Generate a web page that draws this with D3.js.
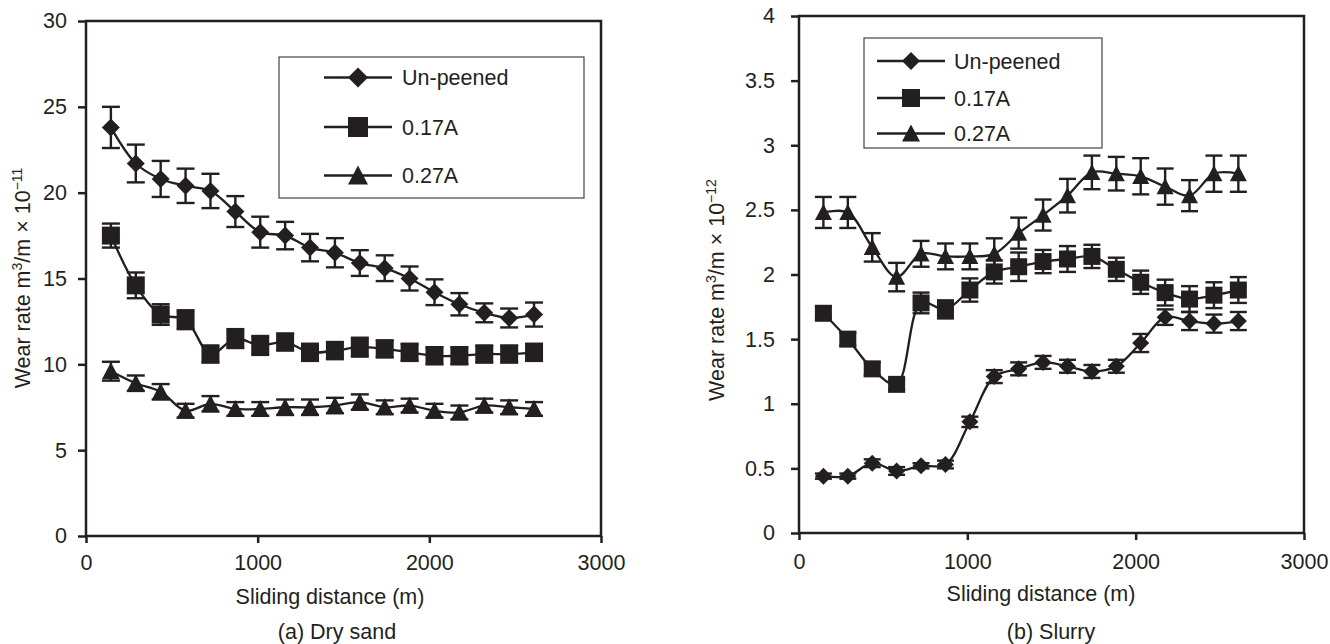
<!DOCTYPE html>
<html>
<head>
<meta charset="utf-8">
<script src="https://cdn.jsdelivr.net/npm/d3@7"></script>
<style>
    body { margin: 0; background: #fff; }
    text { font-family: "Liberation Sans", Arial, sans-serif; fill: #231f20; }
</style>
</head>
<body>
<div id="chart"></div>
<script>
// Chart data
var distance = [145, 290, 435, 580, 725, 870, 1015, 1160, 1305, 1450, 1595, 1740, 1885, 2030, 2175, 2320, 2465, 2610];
var seriesNames = ["Un-peened", "0.17A", "0.27A"];
var markerTypes = ["diamond", "square", "triangle"];
var xTicks = [0, 1000, 2000, 3000];

// (a) Dry sand, x 10^-11
var dryUnpeened = [23.8, 21.7, 20.8, 20.4, 20.1, 18.9, 17.7, 17.5, 16.8, 16.5, 15.9, 15.6, 15.0, 14.2, 13.5, 13.0, 12.7, 12.9];
var dryUnpeenedErr = [1.2, 1.1, 1.05, 1.0, 1.0, 0.9, 0.9, 0.8, 0.8, 0.85, 0.75, 0.75, 0.7, 0.75, 0.65, 0.55, 0.55, 0.7];
var dry017 = [17.5, 14.6, 12.9, 12.6, 10.6, 11.5, 11.1, 11.3, 10.7, 10.8, 11.0, 10.9, 10.7, 10.5, 10.5, 10.6, 10.6, 10.7];
var dry017Err = [0.7, 0.75, 0.6, 0.55, 0.5, 0.55, 0.55, 0.5, 0.5, 0.5, 0.55, 0.5, 0.5, 0.5, 0.5, 0.5, 0.5, 0.5];
var dry027 = [9.6, 8.9, 8.4, 7.3, 7.7, 7.4, 7.4, 7.5, 7.5, 7.6, 7.8, 7.5, 7.6, 7.3, 7.2, 7.6, 7.5, 7.4];
var dry027Err = [0.55, 0.45, 0.45, 0.4, 0.45, 0.4, 0.4, 0.45, 0.45, 0.45, 0.45, 0.4, 0.4, 0.4, 0.4, 0.4, 0.4, 0.4];
var dryTicks = [0, 5, 10, 15, 20, 25, 30];

// (b) Slurry, x 10^-12
var slurryUnpeened = [0.44, 0.44, 0.54, 0.48, 0.52, 0.53, 0.86, 1.21, 1.27, 1.32, 1.29, 1.25, 1.29, 1.47, 1.67, 1.64, 1.62, 1.64];
var slurryUnpeenedErr = [0.02, 0.02, 0.03, 0.03, 0.02, 0.03, 0.04, 0.05, 0.05, 0.05, 0.05, 0.05, 0.05, 0.07, 0.06, 0.07, 0.07, 0.07];
var slurry017 = [1.70, 1.50, 1.27, 1.15, 1.78, 1.73, 1.88, 2.02, 2.06, 2.10, 2.12, 2.14, 2.04, 1.94, 1.86, 1.81, 1.84, 1.88];
var slurry017Err = [0.05, 0.05, 0.05, 0.04, 0.08, 0.07, 0.09, 0.09, 0.11, 0.09, 0.1, 0.09, 0.09, 0.09, 0.1, 0.1, 0.1, 0.1];
var slurry027 = [2.48, 2.48, 2.21, 1.98, 2.16, 2.14, 2.14, 2.16, 2.32, 2.46, 2.61, 2.79, 2.78, 2.76, 2.68, 2.61, 2.78, 2.78];
var slurry027Err = [0.12, 0.12, 0.11, 0.11, 0.1, 0.1, 0.1, 0.12, 0.12, 0.12, 0.13, 0.13, 0.13, 0.14, 0.14, 0.12, 0.14, 0.14];
var slurryTicks = [0, 0.5, 1, 1.5, 2, 2.5, 3, 3.5, 4];

var ink = "#231f20";

var svg = d3.select("#chart")
    .append("svg")
    .attr("width", 1330)
    .attr("height", 644);

// Marker path centred at 0,0 inside an s x s box
function markerPath(type, s) {
    var h = s / 2;
    if (type === "diamond") {
        return `M0,${-h}L${h},0L0,${h}L${-h},0Z`;
    }
    if (type === "square") {
        return `M${-h},${-h}H${h}V${h}H${-h}Z`;
    }
    return `M0,${-h}L${h},${h * 0.9}L${-h},${h * 0.9}Z`;
}

function drawPanel(cfg) {
    var x = d3.scaleLinear().domain([0, 3000]).range([cfg.left, cfg.right]);
    var y = d3.scaleLinear().domain([0, cfg.yMax]).range([cfg.bottom, cfg.top]);
    var g = svg.append("g");

    // Axes
    var leftAxis = d3.axisLeft(y)
        .tickValues(cfg.yTicks)
        .tickSize(8)
        .tickSizeOuter(0)
        .tickPadding(cfg.yPad)
        .tickFormat(d => String(d));
    var bottomAxis = d3.axisBottom(x)
        .tickValues(xTicks)
        .tickSize(7)
        .tickSizeOuter(0)
        .tickPadding(cfg.xPad)
        .tickFormat(d3.format("d"));

    g.append("g")
        .attr("transform", `translate(${cfg.left}, 0)`)
        .call(leftAxis);
    g.append("g")
        .attr("transform", `translate(0, ${cfg.bottom})`)
        .call(bottomAxis);

    g.selectAll(".tick line").attr("stroke", ink).attr("stroke-width", 2.5);
    g.selectAll(".domain").attr("stroke", "none");
    g.selectAll(".tick text")
        .attr("fill", ink)
        .style("font-size", "21.5px")
        .style("font-family", "'Liberation Sans', Arial, sans-serif");

    // Plot frame
    g.append("rect")
        .attr("x", cfg.left)
        .attr("y", cfg.top)
        .attr("width", cfg.right - cfg.left)
        .attr("height", cfg.bottom - cfg.top)
        .attr("fill", "none")
        .attr("stroke", ink)
        .attr("stroke-width", 2.5);

    var line = d3.line()
        .x(d => x(d.x))
        .y(d => y(d.v))
        .curve(d3.curveCatmullRom.alpha(0.5));

    cfg.series.forEach(function (s, i) {
        var pts = distance.map((d, j) => ({ x: d, v: s.values[j], e: s.err[j] }));
        var sg = g.append("g");

        // error bars
        var bars = sg.selectAll(".err")
            .data(pts)
            .enter()
            .append("g")
            .attr("stroke", ink)
            .attr("stroke-width", 2.4);
        bars.append("line")
            .attr("x1", d => x(d.x)).attr("x2", d => x(d.x))
            .attr("y1", d => y(d.v - d.e)).attr("y2", d => y(d.v + d.e));
        bars.append("line")
            .attr("x1", d => x(d.x) - cfg.cap).attr("x2", d => x(d.x) + cfg.cap)
            .attr("y1", d => y(d.v + d.e)).attr("y2", d => y(d.v + d.e));
        bars.append("line")
            .attr("x1", d => x(d.x) - cfg.cap).attr("x2", d => x(d.x) + cfg.cap)
            .attr("y1", d => y(d.v - d.e)).attr("y2", d => y(d.v - d.e));

        sg.append("path")
            .datum(pts)
            .attr("d", line)
            .attr("fill", "none")
            .attr("stroke", ink)
            .attr("stroke-width", 2.3);

        sg.selectAll(".mark")
            .data(pts)
            .enter()
            .append("path")
            .attr("transform", d => `translate(${x(d.x)}, ${y(d.v)})`)
            .attr("d", markerPath(markerTypes[i], cfg.marker))
            .attr("fill", ink);
    });

    // Legend
    var lg = cfg.legend;
    g.append("rect")
        .attr("x", lg.x).attr("y", lg.y)
        .attr("width", lg.w).attr("height", lg.h)
        .attr("fill", "#fff")
        .attr("stroke", "#444")
        .attr("stroke-width", 1.2);
    seriesNames.forEach(function (name, i) {
        var ry = lg.rows[i];
        g.append("line")
            .attr("x1", lg.lineX[0]).attr("x2", lg.lineX[1])
            .attr("y1", ry).attr("y2", ry)
            .attr("stroke", ink).attr("stroke-width", 2.3);
        g.append("path")
            .attr("transform", `translate(${(lg.lineX[0] + lg.lineX[1]) / 2}, ${ry})`)
            .attr("d", markerPath(markerTypes[i], lg.marker))
            .attr("fill", ink);
        g.append("text")
            .attr("x", lg.textX)
            .attr("y", ry + 7.5)
            .style("font-size", "21.5px")
            .text(name);
    });

    // Y title with superscripts
    var yt = g.append("text")
        .attr("transform", `translate(${cfg.yTitle[0]}, ${cfg.yTitle[1]}) rotate(-90)`)
        .attr("text-anchor", "middle")
        .style("font-size", "21.5px");
    yt.append("tspan").text("Wear rate m");
    yt.append("tspan").attr("dy", -8).style("font-size", "14px").text("3");
    yt.append("tspan").attr("dy", 8).text("/m × 10");
    yt.append("tspan").attr("dy", -8).style("font-size", "14px").text(cfg.exp);

    g.append("text")
        .attr("x", cfg.xTitle[0]).attr("y", cfg.xTitle[1])
        .attr("text-anchor", "middle")
        .style("font-size", "21.5px")
        .text("Sliding distance (m)");

    g.append("text")
        .attr("x", cfg.caption[0]).attr("y", cfg.caption[1])
        .attr("text-anchor", "middle")
        .style("font-size", "21.5px")
        .text(cfg.captionText);
}

drawPanel({
    left: 86, right: 601, top: 21, bottom: 536,
    yMax: 30, yTicks: dryTicks, yPad: 11, xPad: 12,
    marker: 18, cap: 9,
    series: [
        { values: dryUnpeened, err: dryUnpeenedErr },
        { values: dry017, err: dry017Err },
        { values: dry027, err: dry027Err }
    ],
    legend: { x: 279, y: 57, w: 305, h: 141, rows: [77.5, 127, 175.5], lineX: [324, 392], textX: 402, marker: 20 },
    yTitle: [30, 278], exp: "−11",
    xTitle: [330, 604],
    caption: [337, 639], captionText: "(a) Dry sand"
});

drawPanel({
    left: 799, right: 1304, top: 16, bottom: 533,
    yMax: 4, yTicks: slurryTicks, yPad: 16, xPad: 14,
    marker: 17, cap: 8.5,
    series: [
        { values: slurryUnpeened, err: slurryUnpeenedErr },
        { values: slurry017, err: slurry017Err },
        { values: slurry027, err: slurry027Err }
    ],
    legend: { x: 864, y: 38, w: 238, h: 110, rows: [61, 98, 133.5], lineX: [877, 945], textX: 954, marker: 18 },
    yTitle: [724, 290], exp: "−12",
    xTitle: [1041, 601],
    caption: [1051, 639], captionText: "(b) Slurry"
});
</script>
</body>
</html>
